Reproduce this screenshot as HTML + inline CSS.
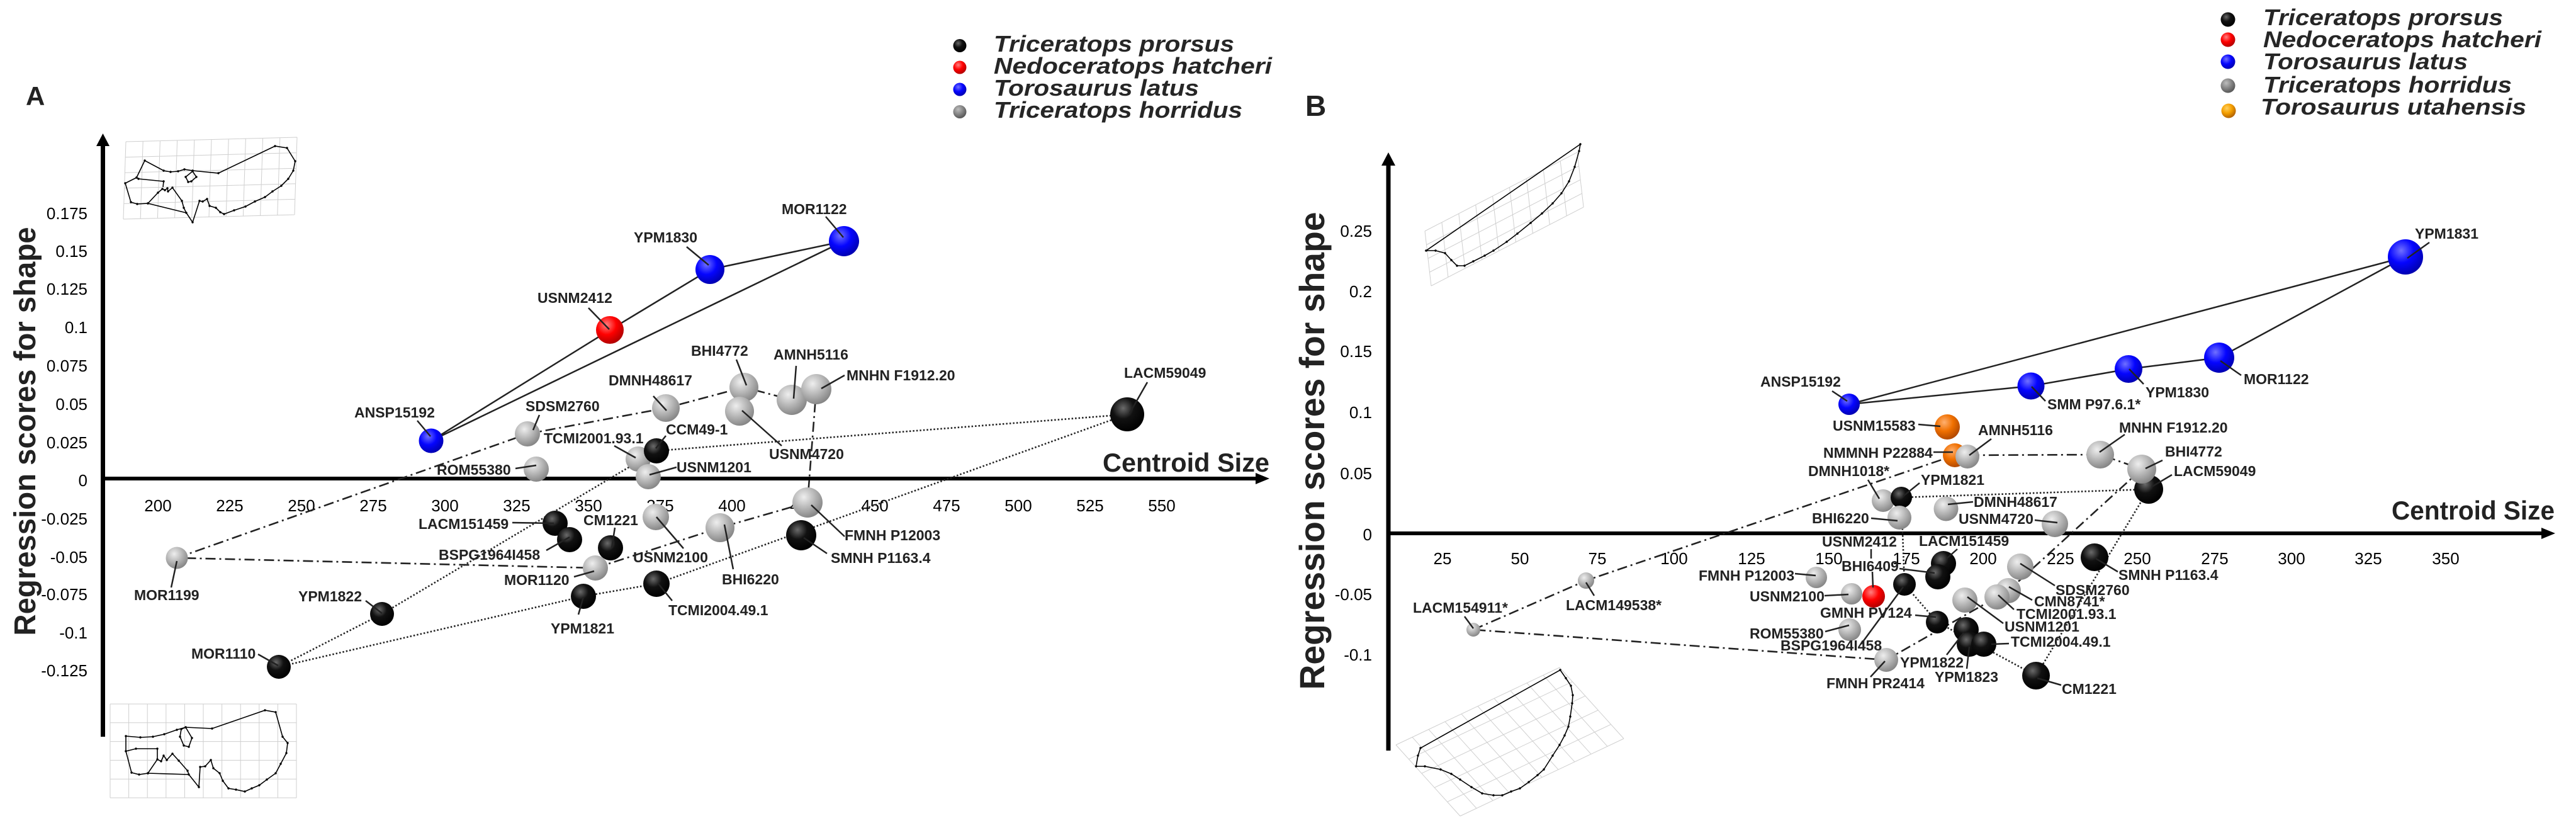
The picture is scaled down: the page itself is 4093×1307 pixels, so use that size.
<!DOCTYPE html>
<html><head><meta charset="utf-8"><style>
html,body{margin:0;padding:0;background:#fff}
svg{display:block}
.lab{font-family:"Liberation Sans",sans-serif;font-weight:bold;font-size:23px;fill:#222}
.tk{font-family:"Liberation Sans",sans-serif;font-size:26px;fill:#000}
.lg{font-family:"Liberation Sans",sans-serif;font-weight:bold;font-style:italic;font-size:36px;fill:#262626}
.ttl{font-family:"Liberation Sans",sans-serif;font-weight:bold;fill:#222}
.ld{stroke:#222;stroke-width:2.5;fill:none}
.sol{stroke:#222;stroke-width:2.5;fill:none}
.dd{stroke:#222;stroke-width:2.6;fill:none;stroke-dasharray:16 6 3 6}
.dt{stroke:#222;stroke-width:2.6;fill:none;stroke-dasharray:2.5 3}
.grid{stroke:#cfcfcf;stroke-width:1;fill:none}
.ol{stroke:#000;stroke-width:1.6;fill:none;marker-start:url(#dm);marker-mid:url(#dm)}
</style></head><body>
<svg width="4093" height="1307" viewBox="0 0 4093 1307" xmlns="http://www.w3.org/2000/svg">
<defs>
<radialGradient id="gk" cx="0.38" cy="0.32" r="0.7"><stop offset="0" stop-color="#6a6a6a"/><stop offset="0.45" stop-color="#111"/><stop offset="1" stop-color="#000"/></radialGradient>
<radialGradient id="gg" cx="0.38" cy="0.32" r="0.7"><stop offset="0" stop-color="#eeeeee"/><stop offset="0.5" stop-color="#b9b9b9"/><stop offset="1" stop-color="#858585"/></radialGradient>
<radialGradient id="gb" cx="0.38" cy="0.32" r="0.7"><stop offset="0" stop-color="#7070ff"/><stop offset="0.5" stop-color="#0505ff"/><stop offset="1" stop-color="#0000b0"/></radialGradient>
<radialGradient id="gr" cx="0.38" cy="0.32" r="0.7"><stop offset="0" stop-color="#ff8080"/><stop offset="0.5" stop-color="#ff0000"/><stop offset="1" stop-color="#b00000"/></radialGradient>
<radialGradient id="go" cx="0.38" cy="0.32" r="0.7"><stop offset="0" stop-color="#ffb070"/><stop offset="0.5" stop-color="#f07000"/><stop offset="1" stop-color="#b04800"/></radialGradient>
<radialGradient id="gl" cx="0.38" cy="0.32" r="0.7"><stop offset="0" stop-color="#bdbdbd"/><stop offset="0.5" stop-color="#888"/><stop offset="1" stop-color="#555"/></radialGradient>
<radialGradient id="glo" cx="0.38" cy="0.32" r="0.7"><stop offset="0" stop-color="#ffd060"/><stop offset="0.5" stop-color="#f5a000"/><stop offset="1" stop-color="#b06000"/></radialGradient>
<marker id="dm" markerWidth="6" markerHeight="6" refX="3" refY="3" markerUnits="userSpaceOnUse"><circle cx="3" cy="3" r="1.7" fill="#000"/></marker>
</defs>
<rect width="4093" height="1307" fill="#fff"/>

<!-- ================= PANEL A ================= -->
<text x="41" y="167" class="ttl" font-size="42">A</text>

<!-- deformation grids A -->
<g transform="matrix(27.2,-0.7,-0.8,24.6,200,225)">
<path class="grid" vector-effect="non-scaling-stroke" d="M0 0V5M1 0V5M2 0V5M3 0V5M4 0V5M5 0V5M6 0V5M7 0V5M8 0V5M9 0V5M10 0V5M0 0H10M0 1H10M0 2H10M0 3H10M0 4H10M0 5H10"/>
</g>
<polygon class="ol" points="199,291 217,282 230,255 260,271 271,273 283,272 293,269 306,271 347,275 437,232 456,235 469,256 466,271 458,284 447,295 433,304 421,313 405,320 390,328 372,334 356,340 350,337 343,330 333,327 329,316 322,320 317,319 306,353 296,338 292,330 289,319 274,298 267,304 266,299 262,302 258,300 251,306 235,323 218,324 208,321"/>
<polyline class="ol" points="217,282 220,284 260,288 259,297"/>
<polyline class="ol" points="235,323 296,338"/>
<polygon class="ol" points="295,281 306,272 312,281 304,288 299,289"/>

<g transform="matrix(29.6,0,0,29.8,175,1118)">
<path class="grid" vector-effect="non-scaling-stroke" d="M0 0V5M1 0V5M2 0V5M3 0V5M4 0V5M5 0V5M6 0V5M7 0V5M8 0V5M9 0V5M10 0V5M0 0H10M0 1H10M0 2H10M0 3H10M0 4H10M0 5H10"/>
</g>
<polygon class="ol" points="200,1169 223,1171 243,1170 261,1166 281,1159 295,1155 337,1157 421,1128 438,1131 449,1170 457,1180 455,1196 446,1213 438,1228 424,1238 412,1247 400,1252 389,1257 375,1254 363,1252 354,1240 349,1228 339,1220 335,1207 326,1217 318,1218 316,1250 300,1230 298,1224 284,1208 274,1197 265,1207 260,1200 256,1209 250,1206 235,1228 221,1230 209,1227 200,1193"/>
<polyline class="ol" points="200,1193 216,1189 250,1189 250,1206"/>
<polyline class="ol" points="235,1228 300,1230"/>
<polygon class="ol" points="288,1158 295,1155 305,1172 300,1186 292,1184 286,1170"/>

<!-- axes A -->
<line x1="163.5" y1="228" x2="163.5" y2="1170" stroke="#000" stroke-width="7"/>
<polygon points="153,232 163.5,212 174,232" fill="#000"/>
<line x1="160" y1="760" x2="1998" y2="760" stroke="#000" stroke-width="6"/>
<polygon points="1995,751 2017,760 1995,769" fill="#000"/>
<text x="2017" y="749" class="ttl" font-size="42" text-anchor="end" textLength="265" lengthAdjust="spacingAndGlyphs">Centroid Size</text>
<text transform="translate(56,685) rotate(-90)" class="ttl" font-size="48" text-anchor="middle" textLength="649" lengthAdjust="spacingAndGlyphs">Regression scores for shape</text>

<!-- y ticks A -->
<g class="tk" text-anchor="end">
<text x="139" y="348">0.175</text><text x="139" y="408">0.15</text><text x="139" y="468">0.125</text>
<text x="139" y="529">0.1</text><text x="139" y="590">0.075</text><text x="139" y="651">0.05</text>
<text x="139" y="712">0.025</text><text x="139" y="772">0</text><text x="139" y="833">-0.025</text>
<text x="139" y="894">-0.05</text><text x="139" y="953">-0.075</text><text x="139" y="1014">-0.1</text>
<text x="139" y="1074">-0.125</text>
</g>
<!-- x ticks A -->
<g class="tk" text-anchor="middle">
<text x="251" y="812">200</text><text x="365" y="812">225</text><text x="479" y="812">250</text>
<text x="593" y="812">275</text><text x="707" y="812">300</text><text x="821" y="812">325</text>
<text x="935" y="812">350</text><text x="1049" y="812">375</text><text x="1163" y="812">400</text>
<text x="1277" y="812">425</text><text x="1390" y="812">450</text><text x="1504" y="812">475</text>
<text x="1618" y="812">500</text><text x="1732" y="812">525</text><text x="1846" y="812">550</text>
</g>

<!-- hull lines A -->
<polyline class="sol" points="685,700 969,524 1128,428 1341,383 685,700"/>
<polyline class="dd" points="281,886 838,689 1058,648 1182,615 1258,635 1297,618 1283,798 1144,838 946,902 281,886"/>
<polyline class="dt" points="443,1059 607,975 1043,716 1791,658 1043,927 927,947 443,1059"/>

<!-- spheres A -->
<circle cx="685" cy="700" r="19.5" fill="url(#gb)"/>
<circle cx="969" cy="524" r="22" fill="url(#gr)"/>
<circle cx="1128" cy="428" r="23" fill="url(#gb)"/>
<circle cx="1341" cy="383" r="24" fill="url(#gb)"/>
<circle cx="838" cy="689" r="20" fill="url(#gg)"/>
<circle cx="852" cy="745" r="20" fill="url(#gg)"/>
<circle cx="1058" cy="648" r="22" fill="url(#gg)"/>
<circle cx="1182" cy="615" r="23" fill="url(#gg)"/>
<circle cx="1175" cy="653" r="23" fill="url(#gg)"/>
<circle cx="1258" cy="635" r="24" fill="url(#gg)"/>
<circle cx="1297" cy="618" r="24" fill="url(#gg)"/>
<circle cx="1014" cy="729" r="20" fill="url(#gg)"/>
<circle cx="1043" cy="716" r="20" fill="url(#gk)"/>
<circle cx="1030" cy="757" r="20" fill="url(#gg)"/>
<circle cx="1791" cy="658" r="27" fill="url(#gk)"/>
<circle cx="882" cy="831" r="20" fill="url(#gk)"/>
<circle cx="905" cy="857" r="20" fill="url(#gk)"/>
<circle cx="970" cy="870" r="20" fill="url(#gk)"/>
<circle cx="946" cy="902" r="20" fill="url(#gg)"/>
<circle cx="1042" cy="821" r="21" fill="url(#gg)"/>
<circle cx="1283" cy="798" r="24" fill="url(#gg)"/>
<circle cx="1273" cy="850" r="24" fill="url(#gk)"/>
<circle cx="1144" cy="838" r="23" fill="url(#gg)"/>
<circle cx="927" cy="947" r="20" fill="url(#gk)"/>
<circle cx="1043" cy="927" r="21" fill="url(#gk)"/>
<circle cx="281" cy="886" r="17.5" fill="url(#gg)"/>
<circle cx="607" cy="975" r="19" fill="url(#gk)"/>
<circle cx="443" cy="1059" r="19" fill="url(#gk)"/>

<!-- leaders A -->
<path class="ld" d="M935 489L968 523M1091 392L1126 421M1312 344L1340 377M1038 629L1059 652M1170 571L1186 612M1265 581L1261 633M1342 596L1305 617M1242 708L1179 652M1823 607L1795 656M1058 692L1042 712M1075 742L1032 754M976 708L1010 727M857 659L847 683M663 668L684 693M819 744L852 739M814 830L880 831M977 838L972 870M868 874L905 853M1086 871L1043 821M912 916L944 907M1165 904L1151 833M1342 852L1289 802M1314 879L1277 854M1068 954L1046 927M919 976L927 948M581 954L607 974M410 1039L442 1057M281 891L272 933"/>

<!-- labels A -->
<g class="lab">
<text x="854" y="481">USNM2412</text>
<text x="1007" y="385">YPM1830</text>
<text x="1242" y="340">MOR1122</text>
<text x="967" y="612">DMNH48617</text>
<text x="1098" y="565">BHI4772</text>
<text x="1229" y="571">AMNH5116</text>
<text x="1345" y="604">MNHN F1912.20</text>
<text x="1222" y="729">USNM4720</text>
<text x="1786" y="600">LACM59049</text>
<text x="1058" y="690">CCM49-1</text>
<text x="1075" y="750">USNM1201</text>
<text x="864" y="704">TCMI2001.93.1</text>
<text x="835" y="653">SDSM2760</text>
<text x="563" y="663">ANSP15192</text>
<text x="694" y="754">ROM55380</text>
<text x="665" y="840">LACM151459</text>
<text x="927" y="834">CM1221</text>
<text x="697" y="889">BSPG1964I458</text>
<text x="1006" y="893">USNM2100</text>
<text x="801" y="929">MOR1120</text>
<text x="1147" y="928">BHI6220</text>
<text x="1342" y="858">FMNH P12003</text>
<text x="1320" y="894">SMNH P1163.4</text>
<text x="1062" y="977">TCMI2004.49.1</text>
<text x="875" y="1006">YPM1821</text>
<text x="474" y="955">YPM1822</text>
<text x="304" y="1046">MOR1110</text>
<text x="213" y="953">MOR1199</text>
</g>

<!-- legend A -->
<circle cx="1525" cy="72.5" r="10.5" fill="url(#gk)"/>
<circle cx="1525" cy="107" r="10.5" fill="url(#gr)"/>
<circle cx="1525" cy="142" r="10.5" fill="url(#gb)"/>
<circle cx="1525" cy="177.5" r="10.5" fill="url(#gl)"/>
<text x="1579" y="82" class="lg" textLength="382" lengthAdjust="spacingAndGlyphs">Triceratops prorsus</text>
<text x="1579" y="117" class="lg" textLength="442" lengthAdjust="spacingAndGlyphs">Nedoceratops hatcheri</text>
<text x="1579" y="152" class="lg" textLength="326" lengthAdjust="spacingAndGlyphs">Torosaurus latus</text>
<text x="1579" y="187" class="lg" textLength="395" lengthAdjust="spacingAndGlyphs">Triceratops horridus</text>

<!-- ================= PANEL B ================= -->
<text x="2074" y="184" class="ttl" font-size="46">B</text>

<g transform="matrix(26.9,-13.9,2.5,21.75,2264,367)">
<path class="grid" vector-effect="non-scaling-stroke" d="M0 0V4M1 0V4M2 0V4M3 0V4M4 0V4M5 0V4M6 0V4M7 0V4M8 0V4M9 0V4M0 0H9M0 1H9M0 2H9M0 3H9M0 4H9"/>
</g>
<polygon class="ol" points="2266,398 2281,398 2296,402 2306,413 2315,422 2327,422 2341,415 2359,406 2373,398 2394,384 2411,371 2432,354 2450,339 2467,323 2481,307 2493,288 2502,265 2509,240 2511,229"/>

<g transform="matrix(26,-12.3,20.4,22.6,2218,1183)">
<path class="grid" vector-effect="non-scaling-stroke" d="M0 0V5M1 0V5M2 0V5M3 0V5M4 0V5M5 0V5M6 0V5M7 0V5M8 0V5M9 0V5M10 0V5M0 0H10M0 1H10M0 2H10M0 3H10M0 4H10M0 5H10"/>
</g>
<polygon class="ol" points="2257,1188 2253,1200 2250,1217 2264,1217 2289,1222 2306,1229 2320,1238 2338,1250 2355,1260 2373,1263 2387,1263 2401,1257 2415,1252 2429,1242 2443,1231 2453,1222 2467,1200 2478,1183 2486,1168 2492,1154 2495,1138 2498,1117 2499,1104 2496,1089 2488,1077 2479,1064"/>

<!-- axes B -->
<line x1="2206" y1="258" x2="2206" y2="1192" stroke="#000" stroke-width="7"/>
<polygon points="2195,263 2206,242 2217,263" fill="#000"/>
<line x1="2203" y1="847" x2="4042" y2="847" stroke="#000" stroke-width="6"/>
<polygon points="4038,838 4060,847 4038,856" fill="#000"/>
<text x="4059" y="825" class="ttl" font-size="42" text-anchor="end" textLength="259" lengthAdjust="spacingAndGlyphs">Centroid Size</text>
<text transform="translate(2104,716) rotate(-90)" class="ttl" font-size="56" text-anchor="middle" textLength="759" lengthAdjust="spacingAndGlyphs">Regression scores for shape</text>

<g class="tk" text-anchor="end">
<text x="2180" y="376">0.25</text><text x="2180" y="472">0.2</text><text x="2180" y="567">0.15</text>
<text x="2180" y="664">0.1</text><text x="2180" y="761">0.05</text><text x="2180" y="858">0</text>
<text x="2180" y="953">-0.05</text><text x="2180" y="1049">-0.1</text>
</g>
<g class="tk" text-anchor="middle">
<text x="2292" y="896">25</text><text x="2415" y="896">50</text><text x="2538" y="896">75</text>
<text x="2660" y="896">100</text><text x="2783" y="896">125</text><text x="2906" y="896">150</text>
<text x="3029" y="896">175</text><text x="3151" y="896">200</text><text x="3274" y="896">225</text>
<text x="3396" y="896">250</text><text x="3519" y="896">275</text><text x="3641" y="896">300</text>
<text x="3763" y="896">325</text><text x="3886" y="896">350</text>
</g>

<!-- hull lines B -->
<polyline class="sol" points="2938,642 3822,408 3526,568 3382,586 3227,613 2938,642"/>
<polyline class="dd" points="2341,1000 2520,922 3106,723 3337,722 3403,745 3191,938 2997,1048 2341,1000"/>
<polyline class="dt" points="3021,790 3414,777 3235,1073 3078,988 3026,928 3021,790"/>

<!-- spheres B -->
<circle cx="2938" cy="642" r="17" fill="url(#gb)"/>
<circle cx="3227" cy="613" r="21.5" fill="url(#gb)"/>
<circle cx="3382" cy="586" r="22" fill="url(#gb)"/>
<circle cx="3526" cy="568" r="24" fill="url(#gb)"/>
<circle cx="3822" cy="408" r="28" fill="url(#gb)"/>
<circle cx="3094" cy="678" r="20" fill="url(#go)"/>
<circle cx="3106" cy="723" r="19" fill="url(#go)"/>
<circle cx="3126" cy="725" r="19" fill="url(#gg)"/>
<circle cx="3337" cy="722" r="22" fill="url(#gg)"/>
<circle cx="3414" cy="777" r="23" fill="url(#gk)"/>
<circle cx="3403" cy="745" r="23" fill="url(#gg)"/>
<circle cx="2992" cy="795" r="18" fill="url(#gg)"/>
<circle cx="3021" cy="790" r="17" fill="url(#gk)"/>
<circle cx="3018" cy="822" r="19" fill="url(#gg)"/>
<circle cx="3092" cy="808" r="19.5" fill="url(#gg)"/>
<circle cx="3265" cy="832" r="21" fill="url(#gg)"/>
<circle cx="3088" cy="895" r="20" fill="url(#gk)"/>
<circle cx="3079" cy="916" r="20" fill="url(#gk)"/>
<circle cx="3328" cy="885" r="22" fill="url(#gk)"/>
<circle cx="3210" cy="900" r="21" fill="url(#gg)"/>
<circle cx="3026" cy="928" r="18" fill="url(#gk)"/>
<circle cx="2886" cy="917" r="17" fill="url(#gg)"/>
<circle cx="2942" cy="943" r="17" fill="url(#gg)"/>
<circle cx="2977" cy="947" r="18" fill="url(#gr)"/>
<circle cx="3191" cy="938" r="20" fill="url(#gg)"/>
<circle cx="3173" cy="948" r="20" fill="url(#gg)"/>
<circle cx="3122" cy="953" r="20" fill="url(#gg)"/>
<circle cx="3078" cy="988" r="18" fill="url(#gk)"/>
<circle cx="2939" cy="1000" r="18" fill="url(#gg)"/>
<circle cx="3124" cy="1000" r="20" fill="url(#gk)"/>
<circle cx="3129" cy="1023" r="20" fill="url(#gk)"/>
<circle cx="3152" cy="1023" r="20" fill="url(#gk)"/>
<circle cx="2997" cy="1048" r="19" fill="url(#gg)"/>
<circle cx="3235" cy="1073" r="22" fill="url(#gk)"/>
<circle cx="2520" cy="922" r="13" fill="url(#gg)"/>
<circle cx="2341" cy="1000" r="11" fill="url(#gg)"/>

<!-- leaders B -->
<path class="ld" d="M2911 621L2935 637M3048 674L3083 677M3072 718L3103 718M3164 697L3129 723M2968 762L2986 792M3050 767L3024 788M2973 823L3015 827M3135 797L3095 801M3233 826L3269 830M2973 872L2973 887M2975 908L2976 933M3110 872L3093 887M3018 903L3074 910M3043 977L3076 980M2900 1003L2938 993M2957 1023L3024 932M2972 1075L2995 1050M3093 1040L3120 1005M3125 1062L3129 1027M3192 1022L3164 1023M3183 990L3126 948M3200 968L3175 945M3229 953L3192 932M3265 930L3210 895M3365 908L3330 887M3275 1088L3237 1077M2852 911L2885 914M2899 946L2937 944M2533 946L2520 925M2327 979L2341 998M3376 690L3336 718M3436 731L3409 744M3451 754L3419 773M3250 637L3228 614M3406 610L3383 586M3561 596L3528 573M3860 385L3825 410"/>

<!-- labels B -->
<g class="lab">
<text x="2797" y="614">ANSP15192</text>
<text x="2912" y="684">USNM15583</text>
<text x="2897" y="727">NMMNH P22884</text>
<text x="3143" y="691">AMNH5116</text>
<text x="2873" y="756">DMNH1018*</text>
<text x="3052" y="770">YPM1821</text>
<text x="2879" y="831">BHI6220</text>
<text x="3136" y="805">DMNH48617</text>
<text x="3112" y="832">USNM4720</text>
<text x="2895" y="868">USNM2412</text>
<text x="3049" y="867">LACM151459</text>
<text x="2926" y="907">BHI6409</text>
<text x="2892" y="981">GMNH PV124</text>
<text x="2780" y="1014">ROM55380</text>
<text x="2829" y="1033">BSPG1964I458</text>
<text x="2902" y="1093">FMNH PR2414</text>
<text x="3019" y="1060">YPM1822</text>
<text x="3074" y="1083">YPM1823</text>
<text x="3195" y="1027">TCMI2004.49.1</text>
<text x="3185" y="1003">USNM1201</text>
<text x="3204" y="983">TCMI2001.93.1</text>
<text x="3232" y="963">CMN8741*</text>
<text x="3266" y="945">SDSM2760</text>
<text x="3366" y="921">SMNH P1163.4</text>
<text x="3276" y="1102">CM1221</text>
<text x="2699" y="922">FMNH P12003</text>
<text x="2780" y="955">USNM2100</text>
<text x="2488" y="969">LACM149538*</text>
<text x="2245" y="973">LACM154911*</text>
<text x="3367" y="687">MNHN F1912.20</text>
<text x="3440" y="725">BHI4772</text>
<text x="3454" y="756">LACM59049</text>
<text x="3253" y="650">SMM P97.6.1*</text>
<text x="3409" y="631">YPM1830</text>
<text x="3565" y="610">MOR1122</text>
<text x="3837" y="379">YPM1831</text>
</g>

<!-- legend B -->
<circle cx="3540" cy="31" r="11.5" fill="url(#gk)"/>
<circle cx="3540" cy="63" r="11.5" fill="url(#gr)"/>
<circle cx="3540" cy="98" r="11.5" fill="url(#gb)"/>
<circle cx="3540" cy="136" r="11.5" fill="url(#gl)"/>
<circle cx="3541" cy="176" r="11.5" fill="url(#glo)"/>
<text x="3596" y="40" class="lg" textLength="381" lengthAdjust="spacingAndGlyphs">Triceratops prorsus</text>
<text x="3596" y="75" class="lg" textLength="442" lengthAdjust="spacingAndGlyphs">Nedoceratops hatcheri</text>
<text x="3596" y="110" class="lg" textLength="325" lengthAdjust="spacingAndGlyphs">Torosaurus latus</text>
<text x="3596" y="147" class="lg" textLength="395" lengthAdjust="spacingAndGlyphs">Triceratops horridus</text>
<text x="3592" y="182" class="lg" textLength="422" lengthAdjust="spacingAndGlyphs">Torosaurus utahensis</text>
</svg>
</body></html>
